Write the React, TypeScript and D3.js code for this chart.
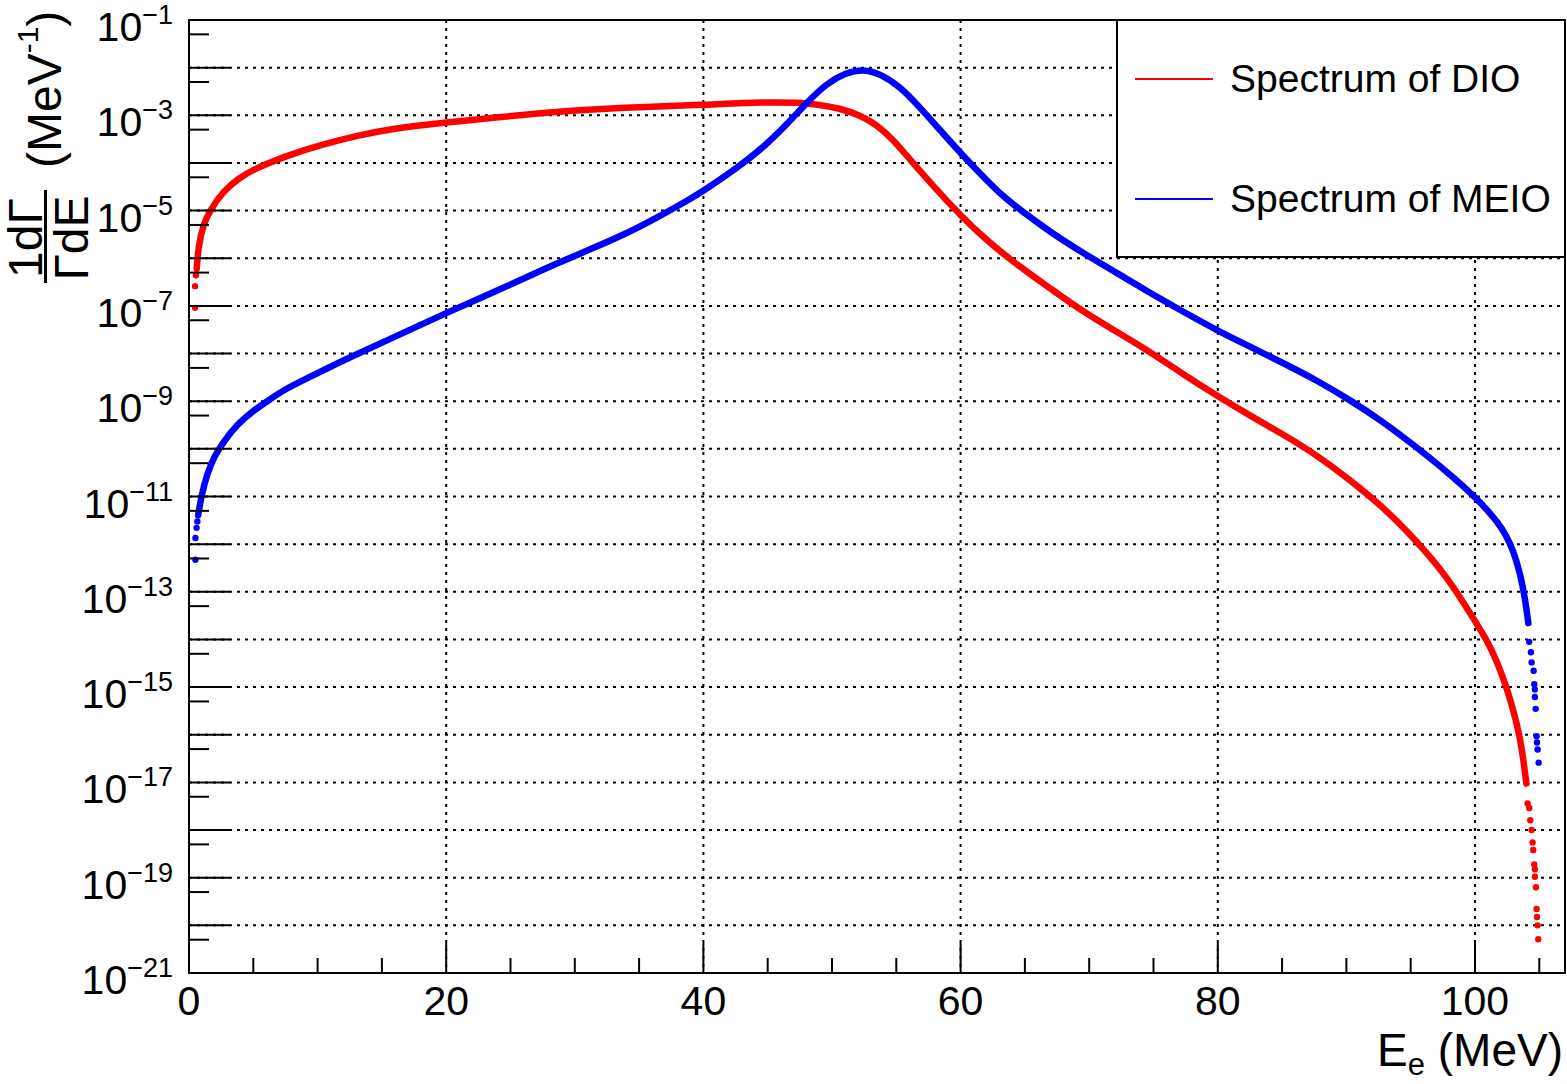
import * as d3 from 'd3';

// electron energy (MeV) and spectrum values (MeV^-1)
const dioE = [0.60, 0.72, 1.11, 1.63, 2.67, 3.96, 5.25, 7.84, 10.4, 13.0, 15.6, 20.0, 23.4, 28.5, 33.7, 40.0, 44.9, 47.5, 48.8, 50.6, 52.2, 53.5, 54.8, 56.1, 57.9, 60.1, 62.0, 64.5, 67.0, 69.5, 72.1, 74.7, 77.3, 79.9, 82.5, 85.1, 87.7, 90.3, 92.8, 95.3, 97.9, 100.1, 101.0, 101.7, 102.4, 103.0, 103.5, 103.8, 104.0];
const dioV = [6.0e-7, 1.7e-6, 5.2e-6, 1.0e-5, 2.6e-5, 5.0e-5, 7.9e-5, 1.5e-4, 2.45e-4, 3.7e-4, 5.2e-4, 7.1e-4, 8.7e-4, 1.2e-3, 1.45e-3, 1.66e-3, 1.9e-3, 1.84e-3, 1.7e-3, 1.41e-3, 1.0e-3, 6.3e-4, 3.0e-4, 1.15e-4, 3.2e-5, 7.4e-6, 2.4e-6, 6.9e-7, 2.3e-7, 7.6e-8, 2.9e-8, 1.1e-8, 3.7e-9, 1.32e-9, 5.0e-10, 2.0e-10, 7.4e-11, 2.2e-11, 6.2e-12, 1.3e-12, 2.0e-13, 2.2e-14, 8.9e-15, 3.5e-15, 1.1e-15, 3.2e-16, 8.9e-17, 2.5e-17, 9.5e-18];

// isolated markers at both ends of the DIO spectrum
const dioDotE = [0.47, 0.47, 0.54, 104.09, 104.22, 104.30, 104.40, 104.48, 104.53, 104.61, 104.66, 104.66, 104.74, 104.79, 104.82, 104.87, 104.92];
const dioDotV = [9.1e-8, 2.6e-7, 4.4e-7, 3.6e-18, 2.9e-18, 1.6e-18, 1.0e-18, 5.5e-19, 3.8e-19, 1.9e-19, 1.5e-19, 1.05e-19, 6.3e-20, 2.2e-20, 1.5e-20, 1.0e-20, 5.1e-21];

const meioE = [0.71, 0.95, 1.4, 2.0, 2.6, 3.7, 5.0, 6.3, 7.5, 9.1, 10.4, 12.5, 15.6, 20.0, 23.4, 26.0, 28.5, 31.1, 33.7, 36.3, 38.9, 40.0, 42.8, 44.9, 46.7, 48.0, 49.6, 51.1, 52.4, 53.7, 55.3, 56.8, 58.4, 60.1, 62.0, 63.3, 64.6, 67.0, 69.5, 72.1, 74.7, 77.3, 79.9, 82.5, 85.1, 87.7, 90.3, 92.8, 95.3, 97.9, 100.1, 101.0, 101.7, 102.4, 103.0, 103.5, 103.9, 104.15];
const meioV = [4.0e-12, 9.8e-12, 3.0e-11, 7.2e-11, 1.3e-10, 3.2e-10, 6.3e-10, 1.1e-9, 1.8e-9, 2.95e-9, 4.4e-9, 8.3e-9, 2.0e-8, 7.1e-8, 1.8e-7, 3.7e-7, 7.6e-7, 1.5e-6, 3.0e-6, 6.9e-6, 1.7e-5, 2.6e-5, 8.5e-5, 2.4e-4, 7.4e-4, 1.8e-3, 4.7e-3, 7.9e-3, 9.3e-3, 7.6e-3, 4.0e-3, 1.5e-3, 4.9e-4, 1.5e-4, 4.4e-5, 2.0e-5, 1.05e-5, 3.5e-6, 1.3e-6, 5.0e-7, 1.9e-7, 7.6e-8, 3.1e-8, 1.4e-8, 6.3e-9, 2.75e-9, 1.05e-9, 3.8e-10, 1.17e-10, 3.2e-11, 9.3e-12, 5.0e-12, 3.0e-12, 1.6e-12, 7.1e-13, 2.5e-13, 7.1e-14, 2.2e-14];

const meioDotE = [0.50, 0.50, 0.59, 0.65, 104.22, 104.35, 104.40, 104.56, 104.61, 104.66, 104.66, 104.72, 104.79, 104.82, 104.87, 104.95];
const meioDotV = [4.7e-13, 1.35e-12, 2.2e-12, 3.0e-12, 8.9e-15, 5.4e-15, 3.3e-15, 2.2e-15, 1.15e-15, 8.9e-16, 6.2e-16, 3.5e-16, 9.3e-17, 6.9e-17, 4.9e-17, 2.6e-17];

const xMajor = [0, 20, 40, 60, 80, 100];
const xMinor = [5, 10, 15, 25, 30, 35, 45, 50, 55, 65, 70, 75, 85, 90, 95, 105];
const yDecades = d3.range(-21, 0); // exponents -21 .. -1
const yLabelExp = [-1, -3, -5, -7, -9, -11, -13, -15, -17, -19, -21];

const legendNames = ['Spectrum of DIO', 'Spectrum of MEIO'];
const seriesColors = ['#ff0000', '#0000ff'];

const FONT = '"Liberation Sans", Arial, Helvetica, sans-serif';

export default function App() {
  const W = 1567;
  const H = 1084;
  const left = 189, right = 1565, top = 20, bottom = 973;

  const x = d3.scaleLinear().domain([0, 107]).range([left, right]);
  const y = d3.scaleLog().domain([1e-21, 1e-1]).range([bottom, top]);

  const line = d3.line<[number, number]>()
    .x(d => x(d[0]))
    .y(d => y(d[1]))
    .curve(d3.curveBasis);

  const zip = (a: number[], b: number[]) => a.map((v, i) => [v, b[i]] as [number, number]);
  const curves = [zip(dioE, dioV), zip(meioE, meioV)];
  const dots = [zip(dioDotE, dioDotV), zip(meioDotE, meioDotV)];

  return (
    <svg width={W} height={H} style={{ position: 'absolute', left: 0, top: 0, background: '#fff' }} fontFamily={FONT}>
      <rect width={W} height={H} fill="#fff" />

      {/* grid */}
      <g stroke="#000" strokeWidth={2} strokeDasharray="3,5">
        {xMajor.filter(v => v > 0).map(v => (
          <line key={'gx' + v} x1={x(v)} x2={x(v)} y1={top} y2={bottom} />
        ))}
        {yDecades.filter(e => e > -21 && e < -1).map(e => (
          <line key={'gy' + e} x1={left} x2={right} y1={y(Math.pow(10, e))} y2={y(Math.pow(10, e))} />
        ))}
      </g>

      {/* curves */}
      {curves.map((c, i) => (
        <path key={'c' + i} d={line(c) || ''} fill="none" stroke={seriesColors[i]} strokeWidth={6.5} strokeLinecap="round" strokeLinejoin="round" />
      ))}
      {dots.map((ds, i) => (
        <g key={'d' + i} fill={seriesColors[i]}>
          {ds.map((d, j) => <circle key={j} cx={x(d[0])} cy={y(d[1])} r={3.2} />)}
        </g>
      ))}

      {/* ticks */}
      <g stroke="#000" strokeWidth={2}>
        {xMajor.map(v => <line key={'tx' + v} x1={x(v)} x2={x(v)} y1={bottom} y2={bottom - 30} />)}
        {xMinor.map(v => <line key={'mx' + v} x1={x(v)} x2={x(v)} y1={bottom} y2={bottom - 15} />)}
        {yDecades.map(e => <line key={'ty' + e} x1={left} x2={left + 41} y1={y(Math.pow(10, e))} y2={y(Math.pow(10, e))} />)}
        {yDecades.map(e => <line key={'my' + e} x1={left} x2={left + 20} y1={y(5 * Math.pow(10, e))} y2={y(5 * Math.pow(10, e))} />)}
      </g>

      {/* frame */}
      <rect x={left} y={top} width={right - left} height={bottom - top} fill="none" stroke="#000" strokeWidth={2} />

      {/* x tick labels */}
      {xMajor.map(v => (
        <text key={'lx' + v} x={x(v)} y={1015} fontSize={41} textAnchor="middle">{v}</text>
      ))}

      {/* y tick labels */}
      {yLabelExp.map(e => (
        <text key={'ly' + e} x={173} y={y(Math.pow(10, e)) + 21} textAnchor="end" fontSize={41}>
          10<tspan fontSize={27} dy={-17}>{'\u2212' + Math.abs(e)}</tspan>
        </text>
      ))}

      {/* x title */}
      <text x={1563} y={1066} textAnchor="end" fontSize={46}>
        E<tspan fontSize={31} dy={9}>e</tspan><tspan dy={-9}> (MeV)</tspan>
      </text>

      {/* y title */}
      <g transform="rotate(-90)">
        <text x={-238} y={42} fontSize={48} textAnchor="middle">1dΓ</text>
        <line x1={-283} x2={-190} y1={45.5} y2={45.5} stroke="#000" strokeWidth={3} />
        <text x={-238} y={88} fontSize={48} textAnchor="middle">ΓdE</text>
        <text x={-168} y={61} fontSize={48}>
          (MeV<tspan fontSize={30} dy={-23}>-1</tspan><tspan dy={23}>)</tspan>
        </text>
      </g>

      {/* legend */}
      <rect x={1117} y={20} width={448} height={237} fill="#fff" stroke="#000" strokeWidth={2} />
      {legendNames.map((name, i) => (
        <g key={'lg' + i}>
          <line x1={1135} x2={1213} y1={79 + i * 120} y2={79 + i * 120} stroke={seriesColors[i]} strokeWidth={2} />
          <text x={1230} y={92 + i * 120} fontSize={39}>{name}</text>
        </g>
      ))}
    </svg>
  );
}
